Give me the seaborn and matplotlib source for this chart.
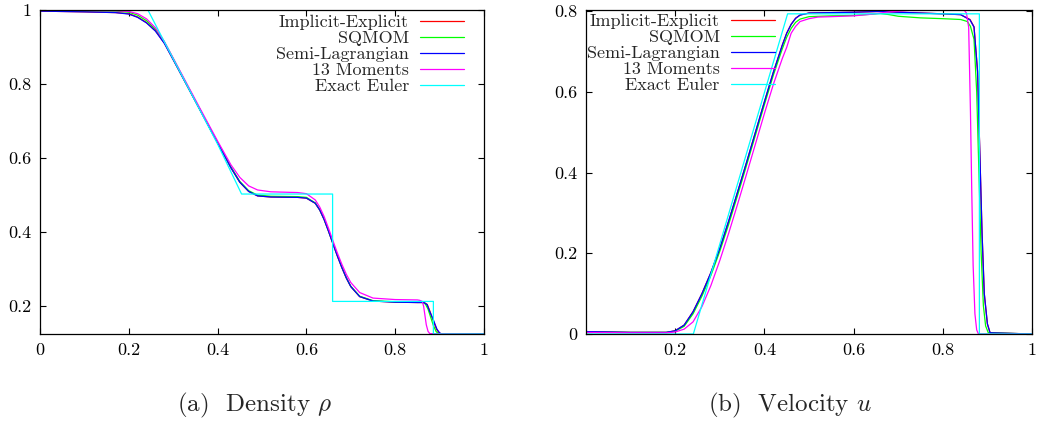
import matplotlib
matplotlib.use("Agg")
import matplotlib.pyplot as plt
import seaborn as sns

sns.set_style("ticks")
plt.rcParams['font.family'] = ['cmr10', 'DejaVu Serif']
plt.rcParams['mathtext.fontset'] = 'cm'
plt.rcParams['axes.formatter.use_mathtext'] = True

names = ['Implicit-Explicit', 'SQMOM', 'Semi-Lagrangian', '13 Moments', 'Exact Euler']
colors = ['#ff0000', '#00ff00', '#0000ff', '#ff00ff', '#00ffff']

# ---- density (panel a) ----
rho_x_ie = [0, 0.10, 0.17, 0.20, 0.22, 0.24, 0.26, 0.28, 0.30, 0.32, 0.36, 0.40, 0.43, 0.45, 0.47, 0.49,
            0.52, 0.58, 0.60, 0.62, 0.63, 0.64, 0.65, 0.66, 0.67, 0.68, 0.69, 0.70, 0.72, 0.75, 0.80, 0.85,
            0.865, 0.872, 0.878, 0.886, 0.893, 0.899, 0.904, 1.0]
rho_ie = [0.997, 0.995, 0.993, 0.990, 0.981, 0.966, 0.944, 0.911, 0.866, 0.821, 0.731, 0.641, 0.574, 0.535,
          0.510, 0.498, 0.495, 0.494, 0.492, 0.478, 0.460, 0.434, 0.402, 0.368, 0.335, 0.304, 0.276, 0.253,
          0.226, 0.214, 0.211, 0.210, 0.210, 0.205, 0.187, 0.160, 0.138, 0.128, 0.125, 0.125]

rho_x_sq = [0, 0.10, 0.17, 0.20, 0.22, 0.24, 0.26, 0.28, 0.30, 0.32, 0.36, 0.40, 0.43, 0.45, 0.47, 0.49,
            0.52, 0.58, 0.60, 0.62, 0.63, 0.64, 0.65, 0.66, 0.67, 0.68, 0.69, 0.70, 0.72, 0.75, 0.80, 0.85,
            0.86, 0.868, 0.874, 0.880, 0.886, 0.892, 0.897, 1.0]
rho_sq = [0.999, 0.998, 0.997, 0.994, 0.986, 0.971, 0.948, 0.914, 0.869, 0.823, 0.732, 0.642, 0.576, 0.537,
          0.512, 0.500, 0.497, 0.496, 0.494, 0.479, 0.461, 0.435, 0.403, 0.369, 0.336, 0.305, 0.277, 0.254,
          0.227, 0.215, 0.212, 0.211, 0.211, 0.206, 0.192, 0.170, 0.148, 0.132, 0.126, 0.125]

rho_x_sl = [0, 0.10, 0.17, 0.20, 0.22, 0.24, 0.26, 0.28, 0.30, 0.32, 0.36, 0.40, 0.43, 0.45, 0.47, 0.49,
            0.52, 0.58, 0.60, 0.62, 0.63, 0.64, 0.65, 0.66, 0.67, 0.68, 0.69, 0.70, 0.72, 0.75, 0.80, 0.85,
            0.865, 0.872, 0.878, 0.886, 0.894, 0.900, 0.905, 1.0]
rho_sl = [0.997, 0.995, 0.993, 0.989, 0.980, 0.965, 0.943, 0.910, 0.866, 0.821, 0.731, 0.641, 0.574, 0.535,
          0.510, 0.498, 0.495, 0.494, 0.492, 0.478, 0.460, 0.434, 0.402, 0.368, 0.335, 0.304, 0.276, 0.253,
          0.226, 0.214, 0.211, 0.210, 0.210, 0.204, 0.185, 0.163, 0.138, 0.128, 0.125, 0.125]

rho_x_13 = [0, 0.10, 0.17, 0.20, 0.22, 0.24, 0.26, 0.28, 0.30, 0.32, 0.36, 0.40, 0.43, 0.45, 0.47, 0.49,
            0.52, 0.58, 0.60, 0.62, 0.63, 0.64, 0.65, 0.66, 0.67, 0.68, 0.69, 0.70, 0.72, 0.75, 0.80, 0.85,
            0.855, 0.861, 0.864, 0.867, 0.870, 0.874, 0.878, 1.0]
rho_13 = [0.999, 0.999, 0.998, 0.996, 0.990, 0.976, 0.952, 0.915, 0.870, 0.825, 0.735, 0.646, 0.582, 0.548,
          0.525, 0.514, 0.509, 0.507, 0.504, 0.487, 0.468, 0.442, 0.410, 0.376, 0.343, 0.313, 0.286, 0.264,
          0.237, 0.222, 0.218, 0.217, 0.216, 0.213, 0.200, 0.175, 0.150, 0.132, 0.126, 0.125]

rho_x_ex = [0, 0.243, 0.30, 0.36, 0.40, 0.454, 0.659, 0.659, 0.886, 0.886, 1.0]
rho_ex = [1.0, 1.0, 0.868, 0.730, 0.638, 0.503, 0.503, 0.213, 0.213, 0.125, 0.125]

# ---- velocity (panel b) ----
u_x_ie = [0, 0.10, 0.18, 0.20, 0.22, 0.24, 0.26, 0.28, 0.30, 0.32, 0.34, 0.36, 0.38, 0.40, 0.42, 0.44, 0.45,
          0.46, 0.47, 0.48, 0.50, 0.55, 0.60, 0.66, 0.70, 0.75, 0.80, 0.84, 0.861, 0.870, 0.878, 0.883, 0.888,
          0.893, 0.900, 0.906, 1.0]
u_ie = [0.006, 0.004, 0.004, 0.008, 0.022, 0.055, 0.100, 0.152, 0.212, 0.280, 0.352, 0.425, 0.500, 0.575,
        0.648, 0.715, 0.745, 0.767, 0.782, 0.790, 0.795, 0.796, 0.797, 0.799, 0.797, 0.795, 0.793, 0.791,
        0.779, 0.761, 0.650, 0.450, 0.250, 0.100, 0.025, 0.003, 0.0]

u_x_sq = [0, 0.10, 0.18, 0.20, 0.22, 0.24, 0.26, 0.28, 0.30, 0.32, 0.34, 0.36, 0.38, 0.40, 0.42, 0.44, 0.45,
          0.46, 0.47, 0.48, 0.50, 0.55, 0.60, 0.64, 0.66, 0.68, 0.70, 0.75, 0.80, 0.84, 0.855, 0.862, 0.870,
          0.876, 0.881, 0.886, 0.891, 0.896, 0.902, 1.0]
u_sq = [0.005, 0.004, 0.004, 0.007, 0.019, 0.050, 0.094, 0.145, 0.205, 0.272, 0.344, 0.418, 0.493, 0.568,
        0.641, 0.706, 0.735, 0.757, 0.772, 0.780, 0.786, 0.788, 0.789, 0.792, 0.794, 0.791, 0.787, 0.783,
        0.781, 0.779, 0.774, 0.762, 0.730, 0.600, 0.400, 0.200, 0.070, 0.020, 0.003, 0.0]

u_x_sl = [0, 0.10, 0.18, 0.20, 0.22, 0.24, 0.26, 0.28, 0.30, 0.32, 0.34, 0.36, 0.38, 0.40, 0.42, 0.44, 0.45,
          0.46, 0.47, 0.48, 0.50, 0.55, 0.60, 0.66, 0.70, 0.75, 0.80, 0.84, 0.861, 0.870, 0.878, 0.883, 0.888,
          0.893, 0.900, 0.906, 1.0]
u_sl = [0.006, 0.004, 0.004, 0.008, 0.022, 0.055, 0.100, 0.152, 0.212, 0.280, 0.352, 0.425, 0.500, 0.575,
        0.648, 0.715, 0.745, 0.767, 0.782, 0.790, 0.795, 0.796, 0.797, 0.799, 0.797, 0.795, 0.793, 0.791,
        0.778, 0.760, 0.650, 0.450, 0.250, 0.100, 0.025, 0.003, 0.0]

u_x_13 = [0, 0.10, 0.18, 0.20, 0.22, 0.24, 0.26, 0.28, 0.30, 0.32, 0.34, 0.36, 0.38, 0.40, 0.42, 0.44, 0.45,
          0.46, 0.47, 0.48, 0.50, 0.52, 0.55, 0.60, 0.64, 0.68, 0.72, 0.80, 0.848, 0.853, 0.858, 0.862, 0.865,
          0.868, 0.872, 0.876, 0.880, 1.0]
u_13 = [0.004, 0.003, 0.003, 0.005, 0.012, 0.030, 0.068, 0.120, 0.182, 0.250, 0.322, 0.396, 0.471, 0.546,
        0.618, 0.682, 0.710, 0.745, 0.762, 0.774, 0.781, 0.785, 0.786, 0.788, 0.792, 0.798, 0.801, 0.802,
        0.802, 0.795, 0.760, 0.550, 0.350, 0.170, 0.050, 0.010, 0.0, 0.0]

u_x_ex = [0, 0.2407, 0.452, 0.882, 0.882, 1.0]
u_ex = [0.0, 0.0, 0.793, 0.793, 0.0, 0.0]

rho_series = [(rho_x_ie, rho_ie), (rho_x_sq, rho_sq), (rho_x_sl, rho_sl), (rho_x_13, rho_13), (rho_x_ex, rho_ex)]
u_series = [(u_x_ie, u_ie), (u_x_sq, u_sq), (u_x_sl, u_sl), (u_x_13, u_13), (u_x_ex, u_ex)]

fig = plt.figure(figsize=(10.4, 4.25), dpi=100)
ax1 = fig.add_axes([40 / 1040, 91 / 425, 444 / 1040, 324 / 425])
ax2 = fig.add_axes([586 / 1040, 91 / 425, 446 / 1040, 324 / 425])

for ax, series in [(ax1, rho_series), (ax2, u_series)]:
    for (x, y), name, c in zip(series, names, colors):
        sns.lineplot(x=x, y=y, ax=ax, color=c, lw=0.9, label=name, estimator=None, sort=False)
    ax.set_xlim(0, 1)
    ax.set_xlabel('')
    ax.set_ylabel('')
    ax.tick_params(direction='in', length=4, width=0.8, top=True, right=True, labelsize=13, pad=6,
                   colors='black')
    for s in ax.spines.values():
        s.set_color('black')
        s.set_linewidth(0.9)

ax1.set_ylim(0.125, 1.0)
ax1.set_xticks([0, 0.2, 0.4, 0.6, 0.8, 1])
ax1.set_xticklabels(['0', '0.2', '0.4', '0.6', '0.8', '1'])
ax1.set_yticks([0.2, 0.4, 0.6, 0.8, 1])
ax1.set_yticklabels(['0.2', '0.4', '0.6', '0.8', '1'])

ax2.set_ylim(0, 0.8025)
ax2.set_xticks([0.2, 0.4, 0.6, 0.8, 1])
ax2.set_xticklabels(['0.2', '0.4', '0.6', '0.8', '1'])
ax2.set_yticks([0, 0.2, 0.4, 0.6, 0.8])
ax2.set_yticklabels(['0', '0.2', '0.4', '0.6', '0.8'])

leg_kw = dict(frameon=False, markerfirst=False, fontsize=13, handlelength=2.45, handletextpad=0.6,
              labelspacing=0.02, borderpad=0, borderaxespad=0)
ax1.legend(loc='upper right', bbox_to_anchor=(0.955, 0.985), **leg_kw)
ax2.legend(loc='upper left', bbox_to_anchor=(0.002, 0.99), **leg_kw)

fig.text(255 / 1040, 1 - 405 / 425, r'(a)  Density $\rho$', ha='center', va='center', fontsize=18)
fig.text(790 / 1040, 1 - 405 / 425, r'(b)  Velocity $u$', ha='center', va='center', fontsize=18)

fig.savefig('out.png', dpi=100)
